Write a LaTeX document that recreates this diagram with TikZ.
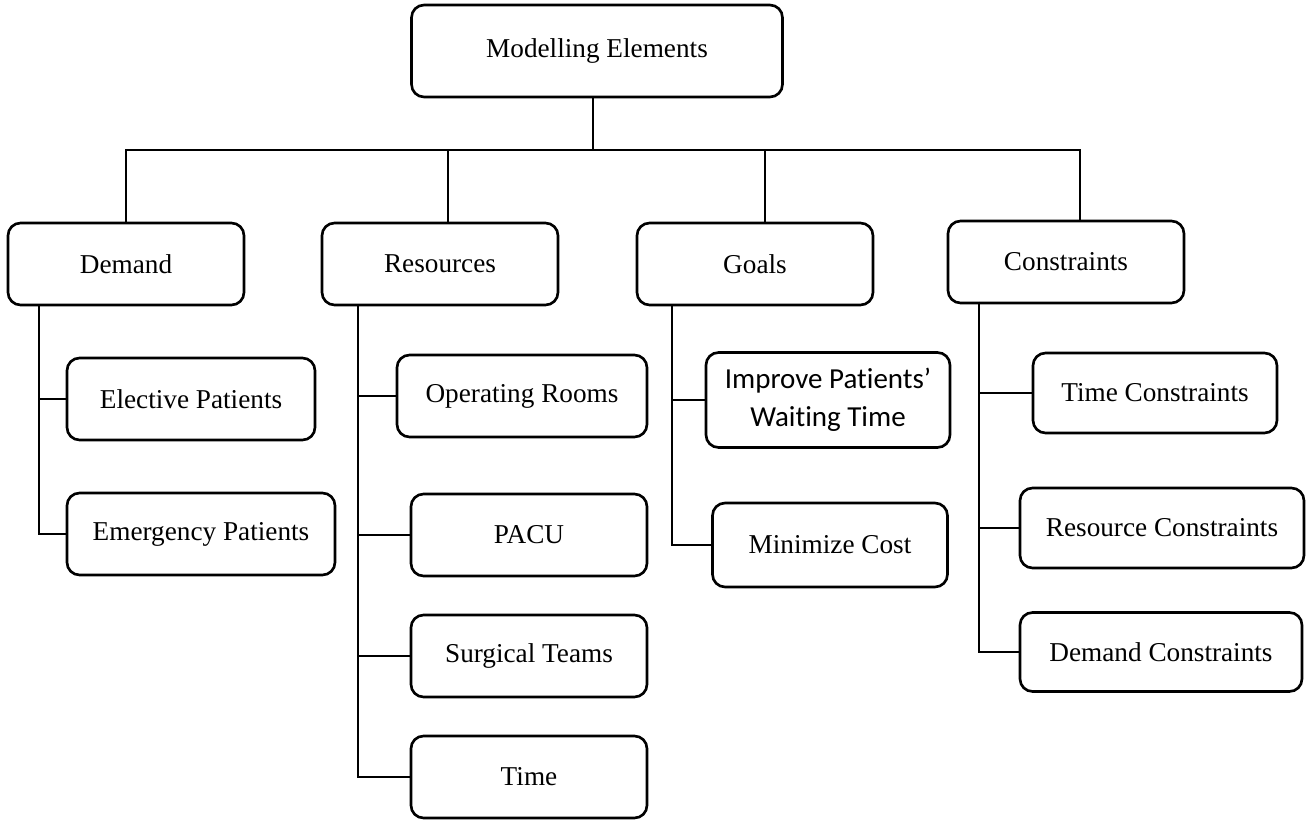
\documentclass[tikz,border=0pt]{standalone}
\usepackage{fontspec}
\setmainfont{Liberation Serif}
\newfontfamily\calibrifont[Ligatures=NoCommon]{Carlito}
\usetikzlibrary{positioning}

\begin{document}
\begin{tikzpicture}[
    x=0.02cm, y=-0.02cm,
    line width=1.5pt,
    box/.style={draw, rectangle, rounded corners=0.25cm, line width=1.5pt,
        minimum height=1.64cm, inner sep=2pt,
        font=\fontsize{15.5}{18}\selectfont},
    catbox/.style={box, minimum width=4.72cm}
]
\useasboundingbox (0,0) rectangle (1312,820);

% top box
\node[box, minimum width=7.42cm, minimum height=1.84cm] (top) at (597,51) {Modelling Elements};

% categories
\node[catbox] (demand) at (126,264) {Demand};
\node[catbox] (res) at (440,264) {Resources};
\node[catbox] (goals) at (755,264) {Goals};
\node[catbox] (cons) at (1066,262) {Constraints};

% demand items
\node[box, minimum width=4.96cm] (elective) at (191,399) {Elective Patients};
\node[box, minimum width=5.36cm] (emergency) at (201,534) {Emergency Patients};

% resource items
\node[box, minimum width=5cm] (rooms) at (522,396) {Operating Rooms};
\node[box, minimum width=4.72cm] (pacu) at (529,535) {PACU};
\node[box, minimum width=4.72cm] (teams) at (529,656) {Surgical Teams};
\node[box, minimum width=4.72cm] (time) at (529,777) {Time};

% goal items
\node[box, minimum width=4.88cm, minimum height=1.9cm, align=center,
    font=\calibrifont\fontsize{16.5}{21.5}\selectfont] (waiting) at (828,400)
    {Improve Patients’\\Waiting Time};
\node[box, minimum width=4.7cm, minimum height=1.68cm] (cost) at (830,545) {Minimize Cost};

% constraint items
\node[box, minimum width=4.88cm, minimum height=1.6cm] (timecons) at (1155,393) {Time Constraints};
\node[box, minimum width=5.68cm, minimum height=1.6cm] (rescons) at (1162,528) {Resource Constraints};
\node[box, minimum width=5.64cm, minimum height=1.58cm] (demcons) at (1161,652) {Demand Constraints};

% tree lines
\coordinate (bus) at (593,150);
\draw (top.south -| bus) -- (bus);
\draw (demand.north) |- (bus);
\draw ([xshift=0.16cm]res.north) |- (bus);
\draw ([xshift=0.2cm]goals.north) |- (bus);
\draw ([xshift=0.28cm]cons.north) |- (bus);

\coordinate (demrail) at (39,306);
\draw (demrail) |- (elective.west);
\draw (demrail) |- (emergency.west);

\coordinate (resrail) at (358,306);
\draw (resrail) |- (rooms.west);
\draw (resrail) |- (pacu.west);
\draw (resrail) |- (teams.west);
\draw (resrail) |- (time.west);

\coordinate (goalrail) at (672,306);
\draw (goalrail) |- (waiting.west);
\draw (goalrail) |- (cost.west);

\coordinate (consrail) at (979,302);
\draw (consrail) |- (timecons.west);
\draw (consrail) |- (rescons.west);
\draw (consrail) |- (demcons.west);

\end{tikzpicture}
\end{document}
